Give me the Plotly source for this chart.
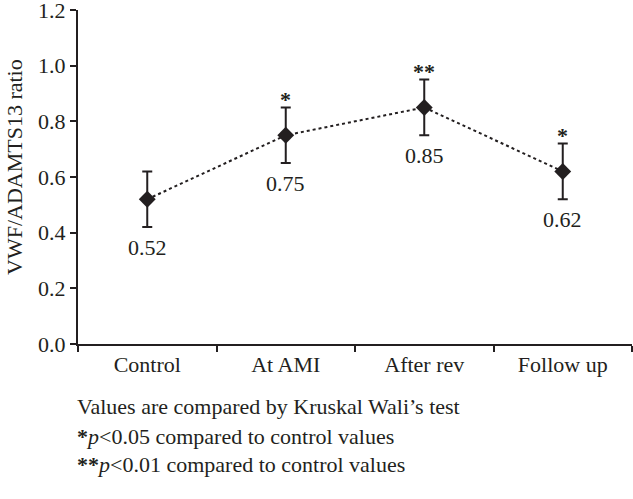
import plotly.graph_objects as go

categories = ["Control", "At AMI", "After rev", "Follow up"]
ratio_values = [0.52, 0.75, 0.85, 0.62]
ratio_errors = [0.10, 0.10, 0.10, 0.10]
significance = ["", "*", "**", "*"]
value_labels = ["0.52", "0.75", "0.85", "0.62"]
y_ticks = [0.0, 0.2, 0.4, 0.6, 0.8, 1.0, 1.2]
footnotes = [
    "Values are compared by Kruskal Wali\u2019s test",
    "<b>*</b><i>p</i>&lt;0.05 compared to control values",
    "<b>**</b><i>p</i>&lt;0.01 compared to control values",
]

INK = "#231f20"
FONT = "Liberation Serif"

fig = go.Figure()
fig.add_trace(go.Scatter(
    x=categories,
    y=ratio_values,
    mode="lines+markers",
    line=dict(color=INK, width=2, dash="dot"),
    marker=dict(symbol="diamond", size=13, color=INK),
    error_y=dict(type="data", array=ratio_errors, visible=True,
                 color=INK, thickness=2, width=5),
    showlegend=False,
    cliponaxis=False,
))

for c, v, e, lab, sig in zip(categories, ratio_values, ratio_errors, value_labels, significance):
    fig.add_annotation(x=c, y=v - e, text=lab, showarrow=False,
                       yanchor="middle", yshift=-20,
                       font=dict(family=FONT, size=22, color=INK))
    if sig:
        fig.add_annotation(x=c, y=v + e, text="<b>" + sig + "</b>", showarrow=False,
                           yanchor="middle", yshift=8,
                           font=dict(family=FONT, size=22, color=INK))

foot_y = [-0.188, -0.277, -0.361]
for t, yy in zip(footnotes, foot_y):
    fig.add_annotation(xref="paper", yref="paper", x=0.0, y=yy, text=t,
                       showarrow=False, xanchor="left", yanchor="middle",
                       xshift=-3,
                       font=dict(family=FONT, size=22, color=INK))

fig.add_annotation(xref="paper", yref="paper", x=-0.1137, y=0.53,
                   text="VWF/ADAMTS13 ratio", textangle=-90, showarrow=False,
                   xanchor="center", yanchor="middle",
                   font=dict(family=FONT, size=22, color=INK))

fig.update_layout(
    width=633, height=499,
    margin=dict(l=78, r=1, t=10, b=155, autoexpand=False),
    paper_bgcolor="white", plot_bgcolor="white",
    font=dict(family=FONT, size=22, color=INK),
)
fig.update_xaxes(
    type="category", range=[-0.5, 3.5], tickson="boundaries",
    showline=True, linecolor=INK, linewidth=2,
    ticks="outside", ticklen=6, tickwidth=2, tickcolor=INK,
    showgrid=False, zeroline=False, automargin=False,
    tickfont=dict(family=FONT, size=22, color=INK),
)
fig.update_yaxes(
    range=[0, 1.2001], tickvals=y_ticks, tickformat=".1f",
    showline=True, linecolor=INK, linewidth=2,
    ticks="outside", ticklen=6, tickwidth=2, tickcolor=INK,
    showgrid=False, zeroline=False, automargin=False,
    ticklabeloverflow="allow",
    tickfont=dict(family=FONT, size=22, color=INK),
)

fig.write_html(
    "out.html",
    config={"displayModeBar": False},
    post_script="document.body.style.margin='0';document.body.style.overflow='hidden';",
)
